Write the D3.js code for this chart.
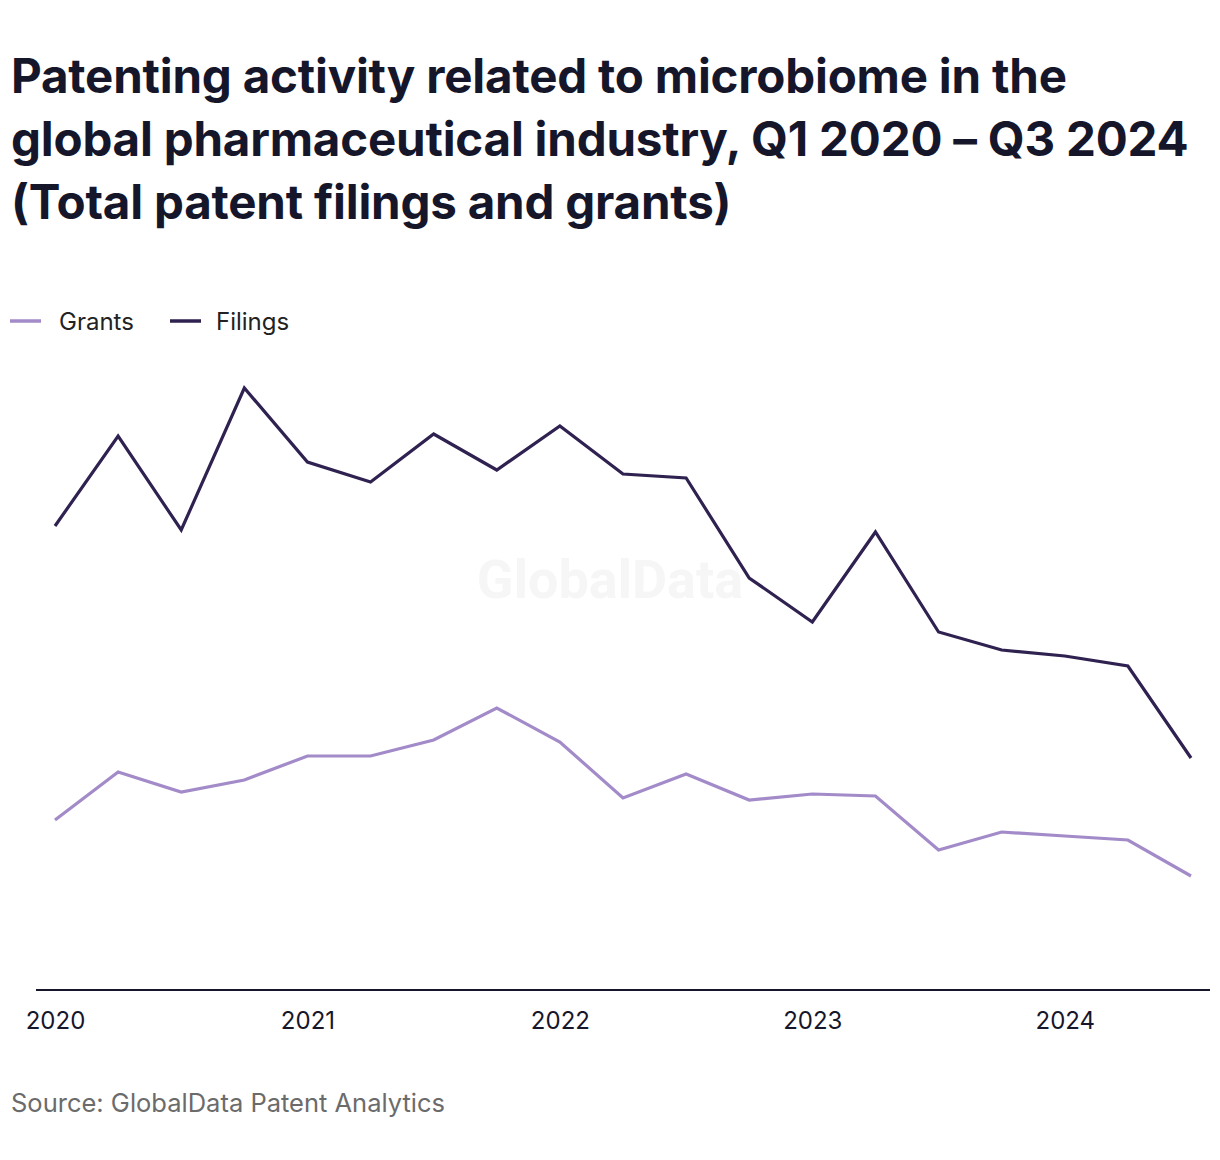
<!DOCTYPE html>
<html><head><meta charset="utf-8">
<script src="https://cdn.jsdelivr.net/npm/d3@7"></script>
<style>body{margin:0;background:#fff}svg{display:block}</style>
</head><body>
<svg id="c" width="1220" height="1160"></svg>
<script>
const quarters = ["Q1 2020","Q2 2020","Q3 2020","Q4 2020","Q1 2021","Q2 2021","Q3 2021","Q4 2021","Q1 2022","Q2 2022","Q3 2022","Q4 2022","Q1 2023","Q2 2023","Q3 2023","Q4 2023","Q1 2024","Q2 2024","Q3 2024"];
const filings = [232,277,230,301,264,254,278,260,282,258,256,206,184,229,179,170,167,162,116];
const grants  = [85,109,99,105,117,117,125,141,124,96,108,95,98,97,70,79,77,75,57];
const yearTicks = ["2020","2021","2022","2023","2024"];
const titleLines = ["Patenting activity related to microbiome in the","global pharmaceutical industry, Q1 2020 \u2013 Q3 2024","(Total patent filings and grants)"];

const svg = d3.select("#c");
const font = "Inter, 'Noto Sans', sans-serif";
const cFil = "#2f2150", cGr = "#a28bc8";

svg.append("g").selectAll("text").data(titleLines).join("text")
  .attr("x",11).attr("y",(d,i)=>93+i*63)
  .attr("font-family",font).attr("font-weight",700).attr("font-size",47.5)
  .attr("fill","#16162b").attr("letter-spacing","-0.2").text(d=>d);

// legend
const leg = [{n:"Grants",c:cGr,x:10,tx:59},{n:"Filings",c:cFil,x:170,tx:216}];
const lg = svg.append("g").selectAll("g").data(leg).join("g");
lg.append("line").attr("x1",d=>d.x).attr("x2",d=>d.x+31).attr("y1",321).attr("y2",321).attr("stroke",d=>d.c).attr("stroke-width",3.5);
lg.append("text").attr("x",d=>d.tx).attr("y",330).attr("font-family",font).attr("font-size",24).attr("fill","#222").text(d=>d.n);

// watermark
svg.append("text").attr("x",610).attr("y",598).attr("text-anchor","middle")
  .attr("font-family","Roboto, 'Noto Sans', sans-serif").attr("font-weight",700).attr("font-size",54)
  .attr("fill","#f6f6f6").text("GlobalData");

const x = d3.scalePoint().domain(quarters).range([55,1191]);
const y = d3.scaleLinear().domain([0,320]).range([990,350]);

const line = d3.line().x((d,i)=>x(quarters[i])).y(d=>y(d));
svg.append("path").datum(grants).attr("d",line).attr("fill","none").attr("stroke",cGr).attr("stroke-width",3.2);
svg.append("path").datum(filings).attr("d",line).attr("fill","none").attr("stroke",cFil).attr("stroke-width",3.2);

// axis
const ax = svg.append("g").attr("transform","translate(0,990)")
  .call(d3.axisBottom(x).tickValues(yearTicks.map(yy=>"Q1 "+yy)).tickFormat(d=>d.slice(3)).tickSize(0).tickPadding(22));
ax.select(".domain").remove();
ax.selectAll("text").attr("font-family",font).attr("font-size",24).attr("fill","#16162b");
svg.append("line").attr("x1",36).attr("x2",1210).attr("y1",990).attr("y2",990).attr("stroke","#16162b").attr("stroke-width",2);

svg.append("text").attr("x",11).attr("y",1112).attr("font-family",font).attr("font-size",25.5).attr("fill","#6b6b6b").text("Source: GlobalData Patent Analytics");
</script>
</body></html>
